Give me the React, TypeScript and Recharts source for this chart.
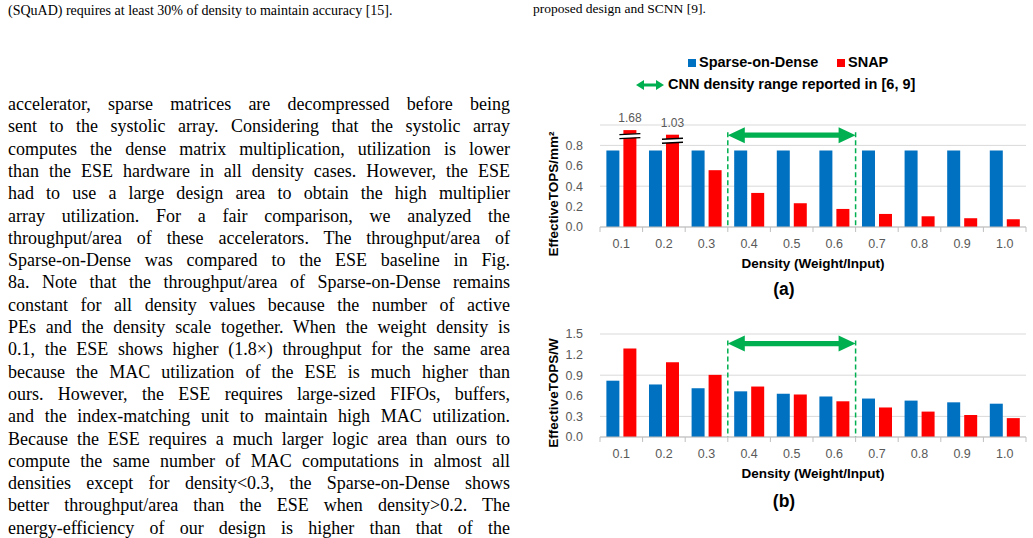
import React from 'react';
import { BarChart, Bar, XAxis, YAxis, CartesianGrid, ReferenceLine, Label } from 'recharts';

// density sweep shared by both panels
const densities = ['0.1', '0.2', '0.3', '0.4', '0.5', '0.6', '0.7', '0.8', '0.9', '1.0'];

// (a) effective TOPS per mm^2
const sodArea = [0.75, 0.75, 0.75, 0.75, 0.75, 0.75, 0.75, 0.75, 0.75, 0.75];
const snapArea = [1.68, 1.03, 0.557, 0.334, 0.233, 0.177, 0.128, 0.105, 0.086, 0.076];
const areaTicks = [0, 0.2, 0.4, 0.6, 0.8, 1.0];

// (b) effective TOPS per W
const sodEnergy = [0.82, 0.765, 0.71, 0.665, 0.63, 0.59, 0.56, 0.53, 0.505, 0.485];
const snapEnergy = [1.29, 1.09, 0.905, 0.735, 0.62, 0.52, 0.43, 0.37, 0.32, 0.275];
const energyTicks = [0, 0.3, 0.6, 0.9, 1.2, 1.5];

// CNN density range marked on both panels
const cnnRange = ['0.4', '0.6'];

const areaData = densities.map((d, i) => ({ density: d, sod: sodArea[i], snap: snapArea[i] }));
const energyData = densities.map((d, i) => ({ density: d, sod: sodEnergy[i], snap: snapEnergy[i] }));

const BLUE = '#0070C0';
const RED = '#FF0000';
const GREEN = '#00B050';
const AXIS_GRAY = '#BFBFBF';
const GRID_GRAY = '#D9D9D9';
const TICK_GRAY = '#595959';
const SANS = '"Liberation Sans", Arial, sans-serif';
const SERIF = '"Liberation Serif", "Times New Roman", serif';

const CHART_W = 490;
const CHART_H = 190;
const Y_AXIS_W = 30;
const X_AXIS_H = 63;
const MARGIN_A = { top: 25, right: 4, bottom: 0, left: 30 };
const MARGIN_B = { top: 24, right: 4, bottom: 0, left: 30 };
const PLOT_LEFT = MARGIN_A.left + Y_AXIS_W;
const PLOT_W = CHART_W - PLOT_LEFT - MARGIN_A.right;
const BAND = PLOT_W / densities.length;

// bars on (a) that run off the axis are cut here and get a break mark
const AREA_BREAK: Record<string, number> = { '0.1': 0.95, '0.2': 0.905 };

const snapShown = (d: { density: string; snap: number }) => {
  const cut = AREA_BREAK[d.density];
  return cut !== undefined && d.snap > cut ? cut : d.snap;
};

const SnapAreaBar = (props: any) => {
  const { x, y, width, height, fill, payload } = props;
  if (AREA_BREAK[payload.density] === undefined) {
    return <rect x={x} y={y} width={width} height={height} fill={fill} />;
  }
  const l = x - 4;
  const r = x + width + 4;
  const b1 = y + 4;
  const b2 = y + 8;
  return (
    <g>
      <rect x={x} y={y} width={width} height={height} fill={fill} />
      <polygon points={`${l},${b1 + 0.5} ${r},${b1 - 0.5} ${r},${b2 - 0.5} ${l},${b2 + 0.5}`} fill="#fff" />
      <line x1={l} y1={b1 + 0.5} x2={r} y2={b1 - 0.5} stroke="#000" strokeWidth={1.4} />
      <line x1={l} y1={b2 + 0.5} x2={r} y2={b2 - 0.5} stroke="#000" strokeWidth={1.4} />
      <text x={x + width / 2} y={y - 8} textAnchor="middle" fontSize={12} fontFamily={SANS} fill={TICK_GRAY}>
        {payload.snap.toFixed(2)}
      </text>
    </g>
  );
};

const DensityTick = (props: any) => {
  const { x, y, payload, index } = props;
  const left = x - BAND / 2;
  const right = x + BAND / 2;
  return (
    <g>
      <line x1={left} y1={y} x2={left} y2={y + 5} stroke={AXIS_GRAY} />
      {index === densities.length - 1 && <line x1={right} y1={y} x2={right} y2={y + 5} stroke={AXIS_GRAY} />}
      <text x={x} y={y + 21} textAnchor="middle" fontSize={12.5} fontFamily={SANS} fill={TICK_GRAY}>
        {payload.value}
      </text>
    </g>
  );
};

const DoubleArrow = (props: any) => {
  const { x1, y1, x2 } = props;
  const head = 17;
  const half = 8;
  const shaft = 2.6;
  const pts = [
    [x1, y1],
    [x1 + head, y1 - half],
    [x1 + head, y1 - shaft],
    [x2 - head, y1 - shaft],
    [x2 - head, y1 - half],
    [x2, y1],
    [x2 - head, y1 + half],
    [x2 - head, y1 + shaft],
    [x1 + head, y1 + shaft],
    [x1 + head, y1 + half],
  ];
  return <polygon points={pts.map((p) => p.join(',')).join(' ')} fill={GREEN} />;
};

const xTitle = (vb: any) => (
  <text
    x={PLOT_LEFT + PLOT_W / 2}
    y={(vb?.y ?? 127) + 41}
    textAnchor="middle"
    fontSize={13.5}
    fontWeight="bold"
    fontFamily={SANS}
    fill="#000"
  >
    Density (Weight/Input)
  </text>
);

const yTitle = (text: string, cy: number) => () => (
  <text
    x={13}
    y={cy}
    transform={`rotate(-90, 13, ${cy})`}
    textAnchor="middle"
    dominantBaseline="central"
    fontSize={13.5}
    fontWeight="bold"
    fontFamily={SANS}
    fill="#000"
  >
    {text}
  </text>
);

interface PanelProps {
  data: { density: string; sod: number; snap: number }[];
  ticks: number[];
  max: number;
  margin: typeof MARGIN_A;
  title: string;
  titleY: number;
  arrowAt: number;
  hideTop?: boolean;
  broken?: boolean;
}

const Panel = ({ data, ticks, max, margin, title, titleY, arrowAt, hideTop, broken }: PanelProps) => (
  <BarChart
    width={CHART_W}
    height={CHART_H}
    data={data}
    margin={margin}
    barCategoryGap="15%"
    barGap={4}
  >
    <CartesianGrid vertical={false} stroke={GRID_GRAY} />
    <XAxis
      dataKey="density"
      height={X_AXIS_H}
      tickSize={0}
      tickMargin={0}
      stroke={AXIS_GRAY}
      tickLine={false}
      interval={0}
      tick={<DensityTick />}
    >
      <Label content={(p: any) => xTitle(p?.viewBox)} />
    </XAxis>
    <YAxis
      type="number"
      domain={[0, max]}
      ticks={ticks}
      width={Y_AXIS_W}
      axisLine={false}
      tickLine={false}
      tickSize={15}
      tickMargin={2}
      tick={{ fontSize: 12.5, fontFamily: SANS, fill: TICK_GRAY }}
      tickFormatter={(v: number) => (hideTop && v === max ? '' : v.toFixed(1))}
    >
      <Label content={yTitle(title, titleY)} />
    </YAxis>
    <Bar dataKey="sod" fill={BLUE} isAnimationActive={false} />
    <Bar
      dataKey={broken ? snapShown : 'snap'}
      fill={RED}
      isAnimationActive={false}
      shape={broken ? <SnapAreaBar /> : undefined}
    />
    <ReferenceLine
      segment={[{ x: cnnRange[0], y: arrowAt + 0.03 * max }, { x: cnnRange[0], y: 0 }]}
      position="start"
      stroke={GREEN}
      strokeWidth={1.5}
      strokeDasharray="5 3"
    />
    <ReferenceLine
      segment={[{ x: cnnRange[1], y: arrowAt + 0.03 * max }, { x: cnnRange[1], y: 0 }]}
      position="end"
      stroke={GREEN}
      strokeWidth={1.5}
      strokeDasharray="5 3"
    />
    <ReferenceLine
      segment={[{ x: cnnRange[0], y: arrowAt }, { x: cnnRange[1], y: arrowAt }]}
      position="start"
      shape={(p: any) => <DoubleArrow {...p} x2={p.x2 + BAND} />}
    />
  </BarChart>
);

const leftLines = [
  'accelerator, sparse matrices are decompressed before being',
  'sent to the systolic array. Considering that the systolic array',
  'computes the dense matrix multiplication, utilization is lower',
  'than the ESE hardware in all density cases. However, the ESE',
  'had to use a large design area to obtain the high multiplier',
  'array utilization. For a fair comparison, we analyzed the',
  'throughput/area of these accelerators. The throughput/area of',
  'Sparse-on-Dense was compared to the ESE baseline in Fig.',
  '8a. Note that the throughput/area of Sparse-on-Dense remains',
  'constant for all density values because the number of active',
  'PEs and the density scale together. When the weight density is',
  '0.1, the ESE shows higher (1.8\u00d7) throughput for the same area',
  'because the MAC utilization of the ESE is much higher than',
  'ours. However, the ESE requires large-sized FIFOs, buffers,',
  'and the index-matching unit to maintain high MAC utilization.',
  'Because the ESE requires a much larger logic area than ours to',
  'compute the same number of MAC computations in almost all',
  'densities except for density<0.3, the Sparse-on-Dense shows',
  'better throughput/area than the ESE when density>0.2. The',
  'energy-efficiency of our design is higher than that of the',
];

const LINE_TOP = 104;
const LINE_PITCH = 22.3;

const LegendArrow = () => (
  <svg width={28} height={12} style={{ position: 'absolute', left: 636, top: 79 }}>
    <polygon points="0,6 8,1 8,4.5 20,4.5 20,1 28,6 20,11 20,7.5 8,7.5 8,11" fill={GREEN} />
  </svg>
);

export default function App() {
  return (
    <div style={{ position: 'absolute', left: 0, top: 0, width: 1033, height: 538, overflow: 'hidden', background: '#fff' }}>
      <div style={{ position: 'absolute', left: 8, top: 3, fontFamily: SERIF, fontSize: 14, whiteSpace: 'nowrap' }}>
        (SQuAD) requires at least 30% of density to maintain accuracy [15].
      </div>
      <div style={{ position: 'absolute', left: 533, top: 1, fontFamily: SERIF, fontSize: 13.5, whiteSpace: 'nowrap' }}>
        proposed design and SCNN [9].
      </div>

      {leftLines.map((line, i) => (
        <div
          key={i}
          style={{
            position: 'absolute',
            left: 8,
            width: 502,
            top: LINE_TOP + i * LINE_PITCH - 11,
            height: 22,
            lineHeight: '22px',
            fontFamily: SERIF,
            fontSize: 18,
            textAlign: 'justify',
            textAlignLast: 'justify',
          }}
        >
          {line}
        </div>
      ))}

      <div style={{ position: 'absolute', left: 0, top: 55, width: 1033, fontFamily: SANS, fontWeight: 'bold', fontSize: 14.5 }}>
        <span style={{ position: 'absolute', left: 688, top: 4, width: 8, height: 8, background: BLUE }} />
        <span style={{ position: 'absolute', left: 699, top: -1 }}>Sparse-on-Dense</span>
        <span style={{ position: 'absolute', left: 837, top: 4, width: 8, height: 8, background: RED }} />
        <span style={{ position: 'absolute', left: 848, top: -1 }}>SNAP</span>
      </div>
      <LegendArrow />
      <div style={{ position: 'absolute', left: 668, top: 76, fontFamily: SANS, fontWeight: 'bold', fontSize: 14.5, whiteSpace: 'nowrap' }}>
        CNN density range reported in [6, 9]
      </div>

      <div style={{ position: 'absolute', left: 540, top: 100 }}>
        <Panel
          data={areaData}
          ticks={areaTicks}
          max={1.0}
          margin={MARGIN_A}
          title="EffectiveTOPS/mm²"
          titleY={94}
          arrowAt={0.9}
          hideTop
          broken
        />
      </div>
      <div style={{ position: 'absolute', left: 540, top: 310 }}>
        <Panel
          data={energyData}
          ticks={energyTicks}
          max={1.5}
          margin={MARGIN_B}
          title="EffectiveTOPS/W"
          titleY={83}
          arrowAt={1.36}
        />
      </div>

      <div style={{ position: 'absolute', left: 760, top: 279, width: 48, textAlign: 'center', fontFamily: SANS, fontWeight: 'bold', fontSize: 17.5 }}>
        (a)
      </div>
      <div style={{ position: 'absolute', left: 760, top: 491, width: 48, textAlign: 'center', fontFamily: SANS, fontWeight: 'bold', fontSize: 17.5 }}>
        (b)
      </div>
    </div>
  );
}
